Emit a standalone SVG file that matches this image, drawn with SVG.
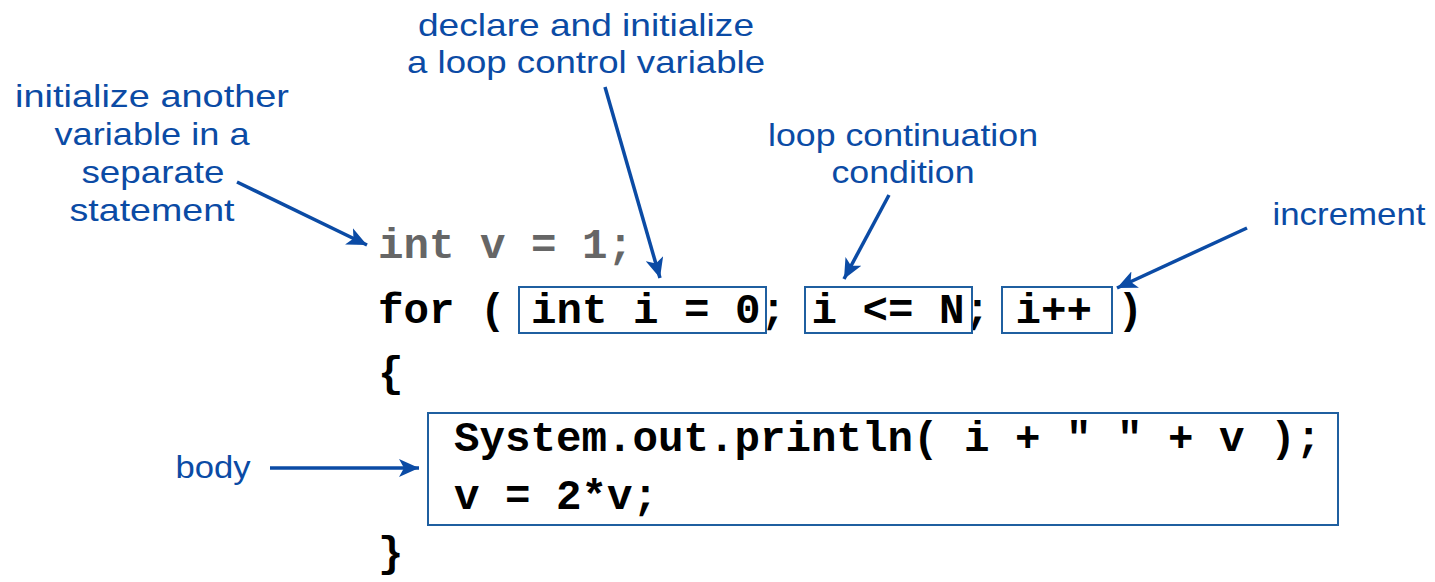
<svg xmlns="http://www.w3.org/2000/svg" width="1435" height="582" viewBox="0 0 1435 582">
<style>
.lbl{font-family:"Liberation Sans","DejaVu Sans",sans-serif;font-size:32px;fill:#0b4ba5;text-anchor:middle}
.code{font-family:"Liberation Mono","Courier New",monospace;font-size:42.5px;font-weight:bold;fill:#000}
.gray{fill:#666666}
.box{fill:none;stroke:#1f5fa0;stroke-width:2}
.arr{stroke:#0b4ba5;stroke-width:3.5;fill:none;marker-end:url(#ah)}
</style>
<defs>
<marker id="ah" markerUnits="userSpaceOnUse" markerWidth="22" markerHeight="18" refX="20" refY="9" orient="auto">
<path d="M0,0 L20,9 L0,18 L5,9 Z" fill="#0b4ba5"/>
</marker>
</defs>
<rect width="1435" height="582" fill="#fff"/>
<g id="label-declare">
<text class="lbl" x="586" y="36" textLength="336" lengthAdjust="spacingAndGlyphs">declare and initialize</text>
<text class="lbl" x="586" y="73" textLength="358" lengthAdjust="spacingAndGlyphs">a loop control variable</text>
</g>
<g id="label-another">
<text class="lbl" x="152" y="107" textLength="274" lengthAdjust="spacingAndGlyphs">initialize another</text>
<text class="lbl" x="152" y="145" textLength="195" lengthAdjust="spacingAndGlyphs">variable in a</text>
<text class="lbl" x="153" y="183" textLength="143" lengthAdjust="spacingAndGlyphs">separate</text>
<text class="lbl" x="152" y="221" textLength="165" lengthAdjust="spacingAndGlyphs">statement</text>
</g>
<g id="label-condition">
<text class="lbl" x="903" y="146" textLength="270" lengthAdjust="spacingAndGlyphs">loop continuation</text>
<text class="lbl" x="903" y="183" textLength="143" lengthAdjust="spacingAndGlyphs">condition</text>
</g>
<g id="label-increment">
<text class="lbl" x="1349" y="225" textLength="153" lengthAdjust="spacingAndGlyphs">increment</text>
</g>
<g id="label-body">
<text class="lbl" x="213" y="478" textLength="75" lengthAdjust="spacingAndGlyphs">body</text>
</g>
<g id="code">
<text class="code gray" x="378" y="258" xml:space="preserve">int v = 1;</text>
<text class="code" x="378" y="323" xml:space="preserve">for ( int i = 0; i &lt;= N; i++ )</text>
<text class="code" x="378" y="386">{</text>
<text class="code" x="454" y="451" xml:space="preserve">System.out.println( i + " " + v );</text>
<text class="code" x="454" y="509" xml:space="preserve">v = 2*v;</text>
<text class="code" x="378" y="566">}</text>
</g>
<g id="box-init"><rect class="box" x="519" y="287" width="247" height="46"/></g>
<g id="box-cond"><rect class="box" x="805" y="287" width="167" height="46"/></g>
<g id="box-incr"><rect class="box" x="1002" y="287" width="110" height="46"/></g>
<g id="box-body"><rect class="box" x="428" y="413" width="910" height="112"/></g>
<g id="connectors">
<line class="arr" x1="237" y1="182" x2="367" y2="245"/>
<line class="arr" x1="605" y1="87" x2="660" y2="278"/>
<line class="arr" x1="889" y1="195" x2="844" y2="279"/>
<line class="arr" x1="1247" y1="228" x2="1117" y2="288"/>
<line class="arr" x1="270" y1="468" x2="419" y2="468"/>
</g>
</svg>
